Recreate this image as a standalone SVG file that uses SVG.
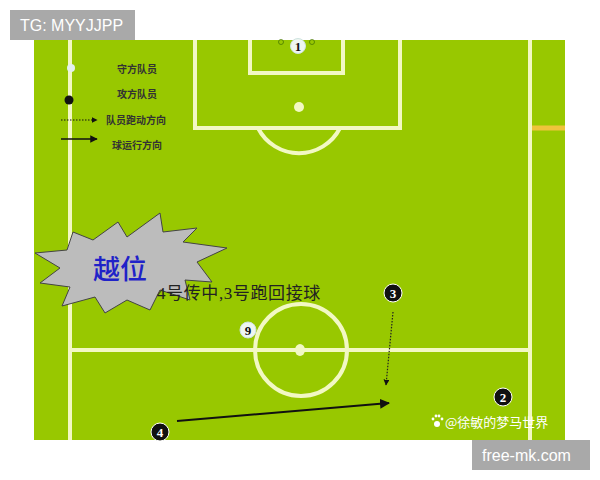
<svg xmlns="http://www.w3.org/2000/svg" width="600" height="480" viewBox="0 0 600 480">
<style>
.ln{fill:none;stroke:#f2f8c4;stroke-width:4}
.leg{font-family:"Noto Sans CJK SC",sans-serif;font-size:10px;font-weight:bold;fill:#333}
.atk{fill:#111;stroke:#fff;stroke-width:1}
.atkt{font-family:"Liberation Serif",serif;font-size:13px;font-weight:bold;fill:#fff;text-anchor:middle}
.def{fill:#eef6f2;stroke:#cfe3e0;stroke-width:1}
.deft{font-family:"Liberation Serif",serif;font-size:13px;font-weight:bold;fill:#111;text-anchor:middle}
.badge{fill:#a9a9a9}
.badget{font-family:"Liberation Sans",sans-serif;font-size:16px;fill:#fff}
</style>
<defs>
<marker id="ah" viewBox="0 0 10 10" refX="9" refY="5" markerWidth="5" markerHeight="5" orient="auto"><path d="M0,0L10,5L0,10z" fill="#111"/></marker>
</defs>
<rect width="600" height="480" fill="#fff"/>
<g id="field">
<rect x="34" y="40" width="531" height="400" fill="#98c800"/>
<line class="ln" x1="70" y1="40" x2="70" y2="440"/>
<line class="ln" x1="530" y1="40" x2="530" y2="440"/>
<line x1="532" y1="128" x2="565" y2="128" stroke="#efc43c" stroke-width="5"/>
<polyline class="ln" points="195,40 195,128 400,128 400,40"/>
<polyline class="ln" points="250,40 250,73 343,73 343,40"/>
<circle cx="299" cy="107" r="5" fill="#f2f8c4"/>
<path class="ln" d="M258,128 A46,46 0 0 0 340,128"/>
<line class="ln" x1="70" y1="350" x2="530" y2="350"/>
<circle class="ln" cx="301" cy="350" r="46"/>
<ellipse cx="300" cy="350" rx="5" ry="6" fill="#f2f8c4"/>
</g>
<g id="legend">
<circle cx="71" cy="68" r="4" fill="#e4f0ee"/>
<text class="leg" x="117" y="73">守方队员</text>
<circle cx="69" cy="100" r="4.5" fill="#111"/>
<text class="leg" x="117" y="98">攻方队员</text>
<line x1="61" y1="120" x2="97" y2="120" stroke="#111" stroke-width="1.2" stroke-dasharray="1.5,1.5" marker-end="url(#ah)"/>
<text class="leg" x="106" y="124">队员跑动方向</text>
<line x1="61" y1="139" x2="97" y2="139" stroke="#111" stroke-width="1.5" marker-end="url(#ah)"/>
<text class="leg" x="112" y="149">球运行方向</text>
</g>
<g id="offside">
<polygon points="35,253 67,250 73,232 93,240 118,222 127,237 160,213 163,232 197,228 183,242 227,248 197,262 212,282 185,280 190,300 160,290 150,310 127,300 105,313 95,297 62,306 70,287 40,283 60,268" fill="#bcbcbc" stroke="#444" stroke-width="1"/>
<text x="120" y="279" font-family="Noto Sans CJK SC,sans-serif" font-size="27" font-weight="500" fill="#1f22c8" text-anchor="middle">越位</text>
</g>
<text id="caption" x="157" y="299" font-family="Liberation Serif,Noto Sans CJK SC,serif" font-size="17" letter-spacing="0.6" fill="#222">4号传中,3号跑回接球</text>
<g id="connectors">
<line x1="393" y1="312" x2="386" y2="385" stroke="#222" stroke-width="1.2" stroke-dasharray="1.5,1.5" marker-end="url(#ah)"/>
<line x1="177" y1="421" x2="389" y2="403" stroke="#111" stroke-width="2" marker-end="url(#ah)"/>
</g>
<g id="p1">
<circle cx="281" cy="42" r="2.5" fill="none" stroke="#4a7a00" stroke-width="0.8"/>
<circle cx="312" cy="42" r="2.5" fill="none" stroke="#4a7a00" stroke-width="0.8"/>
<circle class="def" cx="298" cy="46" r="7.5"/>
<text class="deft" x="298" y="51">1</text>
</g>
<g id="p9">
<circle class="def" cx="248" cy="330" r="8"/>
<text class="deft" x="248" y="335">9</text>
</g>
<g id="p3">
<circle class="atk" cx="393" cy="293" r="9"/>
<text class="atkt" x="393" y="298">3</text>
</g>
<g id="p2">
<circle class="atk" cx="503" cy="397" r="9"/>
<text class="atkt" x="503" y="402">2</text>
</g>
<g id="p4">
<circle class="atk" cx="160" cy="432" r="9"/>
<text class="atkt" x="160" y="437">4</text>
</g>
<g id="watermark">
<g fill="#fff">
<circle cx="437" cy="424" r="3"/>
<circle cx="433" cy="419" r="1.4"/>
<circle cx="436" cy="416" r="1.4"/>
<circle cx="439" cy="416" r="1.4"/>
<circle cx="442" cy="419" r="1.4"/>
</g>
<text x="445" y="427" font-family="Noto Sans CJK SC,sans-serif" font-size="13" fill="#fff">@徐敏的梦马世界</text>
</g>
<g id="tg">
<rect class="badge" x="10" y="10" width="125" height="30"/>
<text class="badget" x="20" y="31">TG: MYYJJPP</text>
</g>
<g id="site">
<rect class="badge" x="472" y="440" width="118" height="30"/>
<text class="badget" x="482" y="461">free-mk.com</text>
</g>
</svg>
